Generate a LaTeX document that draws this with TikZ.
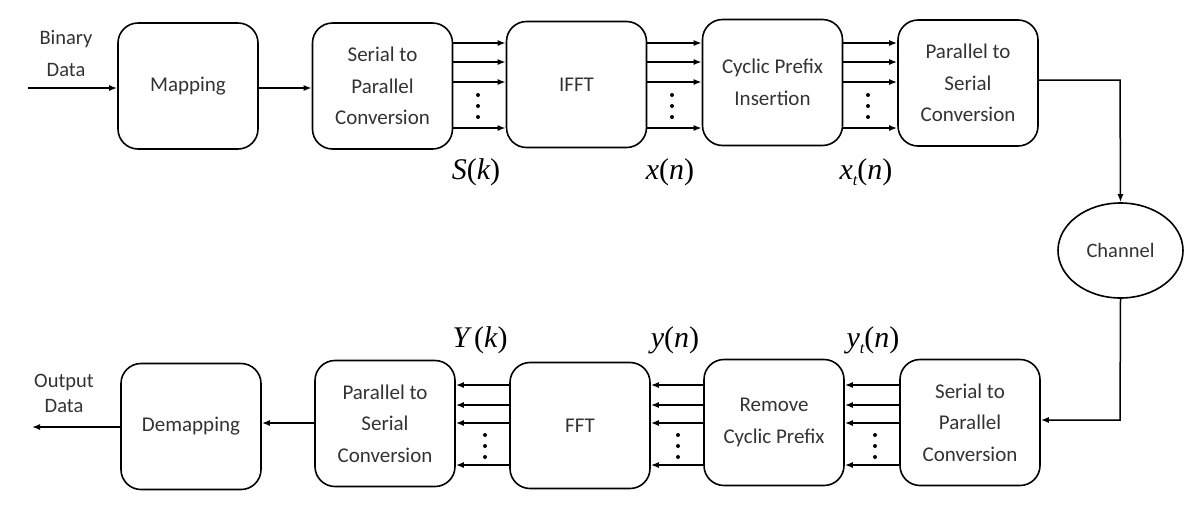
\documentclass[tikz,border=0pt]{standalone}
\usepackage{fontspec}
\setmainfont{Carlito}
\newfontfamily\tnr{Liberation Serif}
\usetikzlibrary{arrows.meta,shapes.geometric}
\begin{document}
\begin{tikzpicture}[x=1pt,y=-1pt,
  blk/.style={draw,line width=1.6pt,rounded corners=20pt,minimum width=140pt,minimum height=126pt,align=center,font=\fontsize{21}{31.5}\selectfont,text=black!80},
  arr/.style={line width=1.5pt,-{Latex[length=8pt,width=6pt]}},
  lbl/.style={font=\tnr\fontsize{30}{30}\selectfont,inner sep=0pt},
  io/.style={font=\fontsize{20.5}{32}\selectfont,align=center,text=black!80},
  dotc/.style={circle,fill=black,inner sep=0pt,minimum size=4pt}]
\useasboundingbox (0,0) rectangle (1184,507);
% top row
\node[blk] (map) at (188,86) {Mapping};
\node[blk] (sp1) at (382.5,86) {Serial to\\Parallel\\Conversion};
\node[blk] (ifft) at (576.5,84.5) {IFFT};
\node[blk] (cpi) at (772.5,82.5) {Cyclic Prefix\\Insertion};
\node[blk] (ps1) at (968,83) {Parallel to\\Serial\\Conversion};
\node[draw,ellipse,line width=1.6pt,minimum width=125pt,minimum height=95pt,font=\fontsize{20.5}{24}\selectfont,text=black!80] (ch) at (1120.5,250.5) {Channel};
% bottom row
\node[blk] (sp2) at (970,422.5) {Serial to\\Parallel\\Conversion};
\node[blk] (rcp) at (774,422.5) {Remove\\Cyclic Prefix};
\node[blk] (fft) at (580,425.5) {FFT};
\node[blk] (ps2) at (385,423.5) {Parallel to\\Serial\\Conversion};
\node[blk] (dem) at (191,426.5) {Demapping};
% io
\coordinate (in) at (28,88);
\coordinate (out) at (32,427);
\node[io] (bin) at (66,54) {Binary\\Data};
\node[io,font=\fontsize{20.5}{25}\selectfont] (outd) at (64,393) {Output\\Data};
\draw[arr] (in) -- (map.west |- in);
\draw[arr] (map.east |- 0,88) -- (sp1.west |- 0,88);
% top parallel
\foreach \a/\b/\dx in {sp1/ifft/478, ifft/cpi/672, cpi/ps1/868}{
  \foreach \yy in {43,62,82,128}{
    \draw[arr] (\a.east |- 0,\yy) -- (\b.west |- 0,\yy);
  }
  \node[dotc] at (\dx,95) {};
  \node[dotc] at (\dx,106) {};
  \node[dotc] at (\dx,117) {};
}
% to channel
\coordinate (c1) at (1120,80);
\draw[arr] (ps1.east |- c1) -- (c1) -- (ch.north);
\coordinate (c2) at (1120,420);
\draw[arr] (ch.south) -- (c2) -- (sp2.east |- c2);
% bottom parallel
\foreach \a/\b/\dx in {sp2/rcp/875, rcp/fft/678, fft/ps2/485}{
  \foreach \yy in {385,405,423,465}{
    \draw[arr] (\a.west |- 0,\yy) -- (\b.east |- 0,\yy);
  }
  \node[dotc] at (\dx,435) {};
  \node[dotc] at (\dx,446) {};
  \node[dotc] at (\dx,457) {};
}
\draw[arr] (ps2.west |- 0,423) -- (dem.east |- 0,423);
\draw[arr] (dem.west |- out) -- (out);
% labels
\node[lbl] (lS) at (476,172) {\itshape S\upshape(\itshape k\upshape)};
\node[lbl] (lx) at (670,172) {\itshape x\upshape(\itshape n\upshape)};
\node[lbl] (lxt) at (866,172) {\itshape x\raisebox{-6pt}{\fontsize{16}{16}\selectfont t}\upshape(\itshape n\upshape)};
\node[lbl] (lY) at (480,340) {\itshape Y\upshape\,(\itshape k\upshape)};
\node[lbl] (ly) at (675,340) {\itshape y\upshape(\itshape n\upshape)};
\node[lbl] (lyt) at (873,340) {\itshape y\raisebox{-6pt}{\fontsize{16}{16}\selectfont t}\upshape(\itshape n\upshape)};
\end{tikzpicture}
\end{document}
